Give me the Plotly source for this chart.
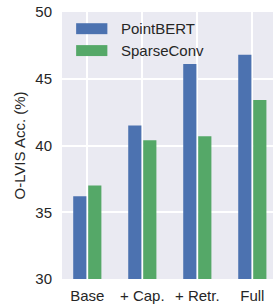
import plotly.graph_objects as go

categories = ["Base", "+ Cap.", "+ Retr.", "Full"]
pointbert = [36.2, 41.5, 46.1, 46.8]
sparseconv = [37.0, 40.4, 40.7, 43.4]
y_ticks = [30, 35, 40, 45, 50]

series = [("PointBERT", pointbert, "#4C72B0"), ("SparseConv", sparseconv, "#55A868")]
font = "Liberation Sans, Arial, sans-serif"
txt = "#262626"
fs = 15

fig = go.Figure()
for name, vals, col in series:
    fig.add_trace(go.Bar(x=categories, y=vals, name=name, marker_color=col,
                         marker_line_width=0, showlegend=False))

# legend drawn as patches + labels (paper coords)
for i, (name, vals, col) in enumerate(series):
    y0 = 0.958 - i * 0.082
    fig.add_shape(type="rect", xref="paper", yref="paper",
                  x0=0.067, x1=0.215, y0=y0 - 0.041, y1=y0,
                  fillcolor=col, line_width=0)
    fig.add_annotation(xref="paper", yref="paper", x=0.268, y=y0 - 0.0205,
                       text=name, showarrow=False, xanchor="left", yanchor="middle",
                       font=dict(size=fs, color=txt, family=font))

fig.update_layout(
    width=273, height=304,
    margin=dict(l=62, r=0, t=12, b=25),
    paper_bgcolor="white", plot_bgcolor="#EAEAF2",
    barmode="group", bargap=0.455, bargroupgap=0.12,
    font=dict(family=font, size=fs, color=txt),
    xaxis=dict(range=[-0.46, 3.376], showgrid=True, gridcolor="white", gridwidth=1.5,
               tickfont=dict(size=fs), ticks="", ticklabelstandoff=6,
               zeroline=False, showline=False, automargin=False),
    yaxis=dict(range=[30, 50], tickvals=y_ticks, showgrid=True, gridcolor="white",
               gridwidth=1.5, tickfont=dict(size=fs), ticklabelstandoff=9,
               title=dict(text="O-LVIS Acc. (%)", font=dict(size=fs), standoff=6),
               zeroline=False, showline=False, automargin=False),
)

fig.write_html("out.html", config={"displayModeBar": False},
               post_script="document.body.style.margin='0';document.body.style.overflow='hidden';")
